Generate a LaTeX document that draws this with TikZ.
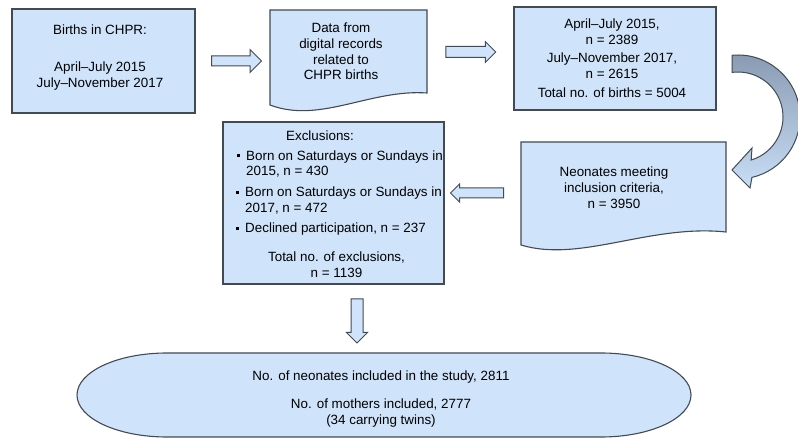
\documentclass[tikz,border=0pt]{standalone}
\usepackage{fontspec}
\setmainfont{Liberation Sans}
\usetikzlibrary{shapes.arrows,calc}
\definecolor{boxfill}{RGB}{207,228,250}
\definecolor{edge}{RGB}{66,74,84}
\definecolor{cadark}{RGB}{136,154,178}
\definecolor{calight}{RGB}{200,222,246}
\newcommand\myfs{\fontsize{13.4pt}{15.8pt}\selectfont}
\newcommand\mybul{\llap{\rule[2.8pt]{3pt}{3pt}\hspace{6.5pt}}}
\begin{document}
\begin{tikzpicture}[x=1pt,y=1pt,font=\myfs,
  boxshape/.style={draw=edge, fill=boxfill, line width=1.1pt},
  rectbox/.style={boxshape, rectangle, inner sep=0pt},
  txt/.style={inner sep=0pt, align=center, text=black},
  txtl/.style={inner sep=0pt, align=left, text=black, anchor=west},
  blockarrow/.style={single arrow, draw=edge, fill=boxfill, line width=1pt, inner xsep=0pt}]
\clip (0,0) rectangle (798,439);
\fill[white] (0,0) rectangle (798,439);

% Births in CHPR
\node[rectbox, minimum width=183pt, minimum height=104pt] (b1) at (103.5,378) {};
\node[txt] (b1t) at (100,381.5) {Births in CHPR:\\[21pt]April–July 2015\\July–November 2017};

% Data from digital records (document shape)
\draw[boxshape] (270,429) -- (427,429) -- (427,346)
  .. controls (370,350) and (320,315) .. (270,334) -- cycle;
\node[txt] (d2) at (341,387.5) {Data from\\digital records\\related to\\CHPR births};

% Births counts
\node[rectbox, minimum width=202pt, minimum height=103pt] (b3) at (615,380.5) {};
\node[txt] (b3t) at (612,380.5) {April–July 2015,\\n = 2389\\[2pt]July–November 2017,\\n = 2615\\[4pt]Total no. of births = 5004};

% straight block arrows
\node[blockarrow, minimum height=50pt, inner ysep=4.5pt, single arrow head extend=6.5pt] (a1) at (234,378) {};
\node[blockarrow, minimum height=50pt, inner ysep=5pt, single arrow head extend=5pt] (a2) at (468,387) {};

% curved arrow
\coordinate (cc) at (738,322);
\shade[top color=cadark, bottom color=calight, draw=edge, line width=1pt]
  ($(cc)+(95.5:62)$) arc[start angle=95.5, end angle=-77, radius=62]
  -- (750,251) -- (732,269) -- (752,291) -- ($(cc)+(-73:45)$)
  arc[start angle=-73, end angle=97.6, radius=45] -- cycle;

% Neonates meeting inclusion criteria (document shape)
\draw[boxshape] (521,297) -- (726,297) -- (726,207)
  .. controls (650,215) and (580,176) .. (521,194) -- cycle;
\node[txt] (d4) at (614,251) {Neonates meeting\\inclusion criteria,\\n = 3950};

% left arrow
\node[blockarrow, shape border rotate=180, minimum height=53pt, inner ysep=4.5pt, single arrow head extend=4pt] (a3) at (479.5,246) {};

% Exclusions
\node[rectbox, minimum width=221pt, minimum height=162pt] (ex) at (333.5,236) {};
\node[txt] (ext) at (320,303) {Exclusions:};
\node[txtl] (ex1) at (246,275) {\mybul Born on Saturdays or Sundays in\\2015, n = 430};
\node[txtl] (ex2) at (245,238.5) {\mybul Born on Saturdays or Sundays in\\2017, n = 472};
\node[txtl] (ex3) at (245,210) {\mybul Declined participation, n = 237};
\node[txt] (ext2) at (336.5,174) {Total no. of exclusions,\\n = 1139};

% down arrow
\node[blockarrow, shape border rotate=270, minimum height=44pt, inner sep=5.5pt, single arrow head extend=4.5pt] (a4) at (357,121) {};

% final oval
\draw[boxshape] (167,86) -- (601,86)
  arc[start angle=90, end angle=-90, x radius=90, y radius=42]
  -- (167,2) arc[start angle=270, end angle=90, x radius=90, y radius=42] -- cycle;
\node[txt] (incl) at (381,40) {No. of neonates included in the study, 2811\\[12pt]No. of mothers included, 2777\\(34 carrying twins)};
\end{tikzpicture}
\end{document}
